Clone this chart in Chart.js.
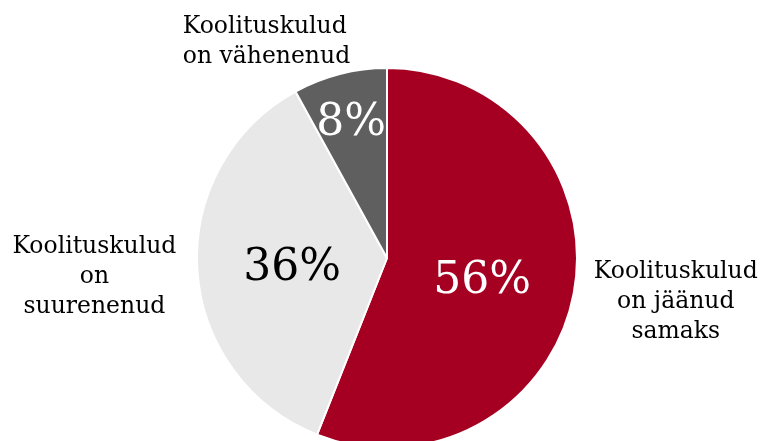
<!DOCTYPE html>
<html>
<head>
<meta charset="utf-8">
<script src="https://cdn.jsdelivr.net/npm/chart.js@4/dist/chart.umd.min.js"></script>
<style>
  html, body { margin: 0; padding: 0; background: #fff; overflow: hidden; }
  #wrap { position: relative; width: 764px; height: 520px; }
</style>
</head>
<body>
<div id="wrap"><canvas id="c" width="764" height="520"></canvas></div>
<script>
// Share of respondents by how their training costs changed
const categories = [
  ['Koolituskulud', 'on jäänud', 'samaks'],
  ['Koolituskulud', 'on', 'suurenenud'],
  ['Koolituskulud', 'on vähenenud']
];
const values = [56, 36, 8];
const valueLabels = ['56%', '36%', '8%'];
const colors = ['#A50021', '#E8E8E8', '#5F5F5F'];
const valueColors = ['#FFFFFF', '#000000', '#FFFFFF'];

const serif = '"DejaVu Serif", "Liberation Serif", serif';

// Draws the percentage inside each slice and the category names outside
const sliceLabels = {
  id: 'sliceLabels',
  afterDatasetsDraw(chart) {
    const ctx = chart.ctx;
    const arcs = chart.getDatasetMeta(0).data;
    // radial position of the value text, as a fraction of the radius
    const valueRadius = [0.51, 0.5, 0.76];
    // category name block: offset of its anchor from the pie centre, in radii
    const namePos = [
      { dx: 1.52,  dy: 0.23,  align: 'center' },
      { dx: -1.54, dy: 0.1,   align: 'center' },
      { dx: -1.075, dy: -1.135, align: 'left' }
    ];
    ctx.save();
    arcs.forEach((arc, i) => {
      const { x, y, startAngle, endAngle, outerRadius } = arc.getProps(['x', 'y', 'startAngle', 'endAngle', 'outerRadius'], true);
      const mid = (startAngle + endAngle) / 2;
      const r = outerRadius * valueRadius[i];
      ctx.fillStyle = valueColors[i];
      ctx.font = '44px ' + serif;
      ctx.textAlign = 'center';
      ctx.textBaseline = 'middle';
      ctx.fillText(valueLabels[i], x + Math.cos(mid) * r, y + Math.sin(mid) * r + 5);

      const p = namePos[i];
      const cx = x + p.dx * outerRadius;
      const cy = y + p.dy * outerRadius;
      const lines = categories[i];
      const lh = 30;
      ctx.fillStyle = '#000000';
      ctx.font = '23.5px ' + serif;
      ctx.textAlign = p.align;
      lines.forEach((t, k) => {
        ctx.fillText(t, cx, cy + (k - (lines.length - 1) / 2) * lh);
      });
    });
    ctx.restore();
  }
};

new Chart(document.getElementById('c'), {
  type: 'pie',
  data: {
    labels: categories.map(c => c.join(' ')),
    datasets: [{
      data: values,
      backgroundColor: colors,
      borderColor: '#FFFFFF',
      borderWidth: 2,
      hoverOffset: 0
    }]
  },
  options: {
    responsive: false,
    animation: false,
    radius: 190,
    layout: { padding: { left: 197, right: 187, top: 68, bottom: 72 } },
    plugins: {
      legend: { display: false },
      tooltip: { enabled: false }
    }
  },
  plugins: [sliceLabels]
});
</script>
</body>
</html>
